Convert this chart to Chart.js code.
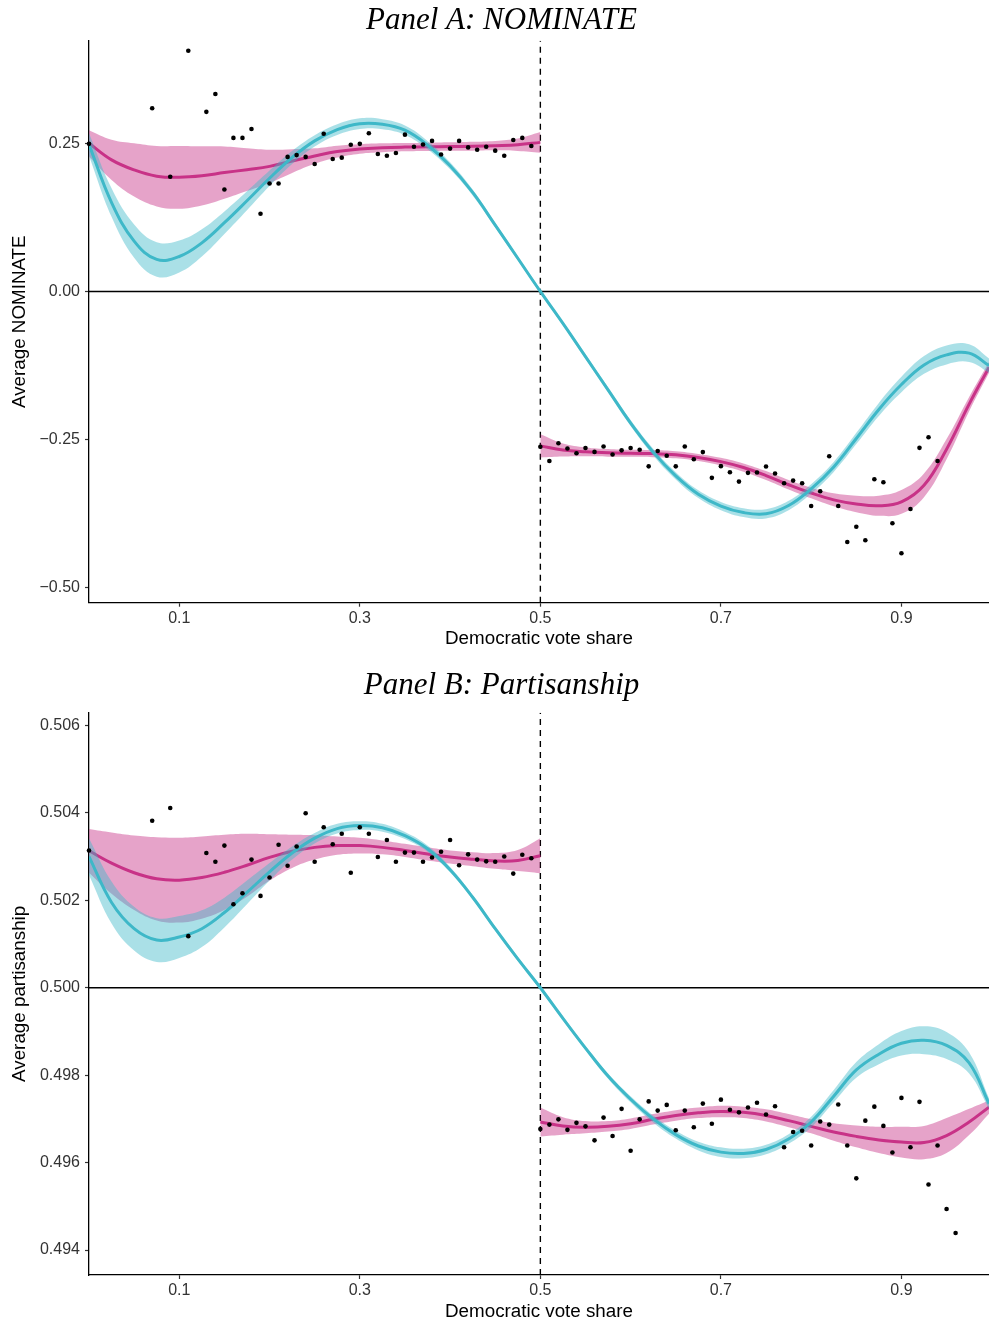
<!DOCTYPE html>
<html><head><meta charset="utf-8">
<script src="https://cdn.jsdelivr.net/npm/chart.js@4.4.1/dist/chart.umd.min.js"></script>
<style>
html,body{margin:0;padding:0;background:#fff;}
#wrap{position:relative;width:989px;height:1325px;background:#fff;}
canvas{position:absolute;left:0;}
</style></head><body>
<div id="wrap">
<canvas id="cA" width="989" height="662" style="top:0;width:989px;height:662px"></canvas>
<canvas id="cB" width="989" height="663" style="top:662px;width:989px;height:663px"></canvas>
</div>
<script>
// ---------- shared axis data ----------
const xTicks = [0.1, 0.3, 0.5, 0.7, 0.9];
const xTickLabels = ["0.1", "0.3", "0.5", "0.7", "0.9"];
const yTicksA = [-0.5, -0.25, 0, 0.25];
const yTickLabelsA = ["\u22120.50", "\u22120.25", "0.00", "0.25"];
const yTicksB = [0.494, 0.496, 0.498, 0.500, 0.502, 0.504, 0.506];
const yTickLabelsB = ["0.494", "0.496", "0.498", "0.500", "0.502", "0.504", "0.506"];

// ---------- smooth-curve grids ----------
const gridL = [0,0.025,0.05,0.075,0.1,0.125,0.15,0.175,0.2,0.225,0.25,0.275,0.3,0.325,0.35,0.375,0.4,0.425,0.45,0.475,0.5];
const gridR = [0.5,0.525,0.55,0.575,0.6,0.625,0.65,0.675,0.7,0.725,0.75,0.775,0.8,0.825,0.85,0.875,0.9,0.925,0.95,0.975,0.997];
const gridAll = [0,0.025,0.05,0.075,0.1,0.125,0.15,0.175,0.2,0.225,0.25,0.275,0.3,0.325,0.35,0.375,0.4,0.425,0.45,0.475,0.5,
                 0.525,0.55,0.575,0.6,0.625,0.65,0.675,0.7,0.725,0.75,0.775,0.8,0.825,0.85,0.875,0.9,0.925,0.95,0.975,0.997];

// ---------- Panel A: NOMINATE ----------
const aLeftFit = [0.250,0.222,0.205,0.1945,0.1925,0.195,0.2005,0.2055,0.211,0.220,0.2285,0.236,0.2405,0.2425,0.2435,0.244,0.2445,0.245,0.246,0.2475,0.2515];
const aLeftCI  = [0.022,0.034,0.045,0.051,0.053,0.050,0.044,0.036,0.028,0.020,0.013,0.010,0.008,0.0075,0.007,0.007,0.007,0.0075,0.008,0.0105,0.0175];
const aRightFit = [-0.2605,-0.2675,-0.2705,-0.2722,-0.273,-0.2735,-0.2755,-0.280,-0.287,-0.297,-0.3105,-0.326,-0.340,-0.3515,-0.3585,-0.3615,-0.355,-0.327,-0.266,-0.190,-0.128];
const aRightCI  = [0.0195,0.011,0.0075,0.0065,0.006,0.006,0.006,0.006,0.0065,0.007,0.0075,0.008,0.009,0.011,0.014,0.017,0.020,0.020,0.017,0.012,0.009];
const aGlobalFit = [0.248,0.150,0.085,0.054,0.059,0.082,0.116,0.153,0.191,0.226,0.254,0.273,0.283,0.282,0.272,0.247,0.212,0.167,0.112,0.056,0.000,
                    -0.054,-0.110,-0.166,-0.222,-0.271,-0.311,-0.342,-0.362,-0.373,-0.375,-0.361,-0.333,-0.296,-0.248,-0.199,-0.157,-0.124,-0.107,-0.104,-0.125];
const aGlobalCI  = [0.019,0.024,0.028,0.029,0.027,0.023,0.019,0.016,0.013,0.011,0.0095,0.009,0.009,0.0085,0.008,0.007,0.006,0.005,0.004,0.0035,0.0035,
                    0.0035,0.004,0.0045,0.005,0.0055,0.006,0.0065,0.007,0.0075,0.0078,0.008,0.008,0.0085,0.0095,0.011,0.013,0.015,0.016,0.015,0.012];
const aBinsL = [0.00,0.07,0.09,0.11,0.13,0.14,0.15,0.16,0.17,0.18,0.19,0.20,0.21,0.22,0.23,0.24,0.25,0.26,
                0.27,0.28,0.29,0.30,0.31,0.32,0.33,0.34,0.35,0.36,0.37,0.38,0.39,0.40,0.41,0.42,0.43,0.44,0.45,0.46,0.47,0.48,0.49];
const aMeansL = [0.249,0.309,0.1936,0.406,0.303,0.333,0.172,0.259,0.259,0.274,0.131,0.182,0.182,0.227,0.230,0.227,0.215,0.266,
                 0.2235,0.2257,0.2476,0.249,0.267,0.232,0.229,0.2336,0.2645,0.244,0.248,0.254,0.231,0.241,0.254,0.243,0.239,0.244,0.2375,0.229,0.2555,0.259,0.2454];
const aBinsR = [0.50,0.51,0.52,0.53,0.54,0.55,0.56,0.57,0.58,0.59,0.60,0.61,0.62,0.63,0.64,0.65,0.66,0.67,0.68,0.69,0.70,0.71,0.72,
                0.73,0.74,0.75,0.76,0.77,0.78,0.79,0.80,0.81,0.82,0.83,0.84,0.85,0.86,0.87,0.88,0.89,0.90,0.91,0.92,0.93,0.94];
const aMeansR = [-0.262,-0.286,-0.256,-0.265,-0.273,-0.264,-0.2706,-0.2616,-0.275,-0.268,-0.264,-0.267,-0.295,-0.269,-0.277,-0.295,-0.2616,-0.283,-0.271,-0.3144,-0.2947,-0.305,-0.3207,
                 -0.306,-0.3055,-0.2953,-0.307,-0.3234,-0.319,-0.3234,-0.362,-0.337,-0.278,-0.362,-0.4225,-0.397,-0.4196,-0.3167,-0.3217,-0.391,-0.4416,-0.367,-0.2638,-0.2458,-0.286];

// ---------- Panel B: Partisanship ----------
const bLeftFit = [0.50313,0.50285,0.50263,0.50249,0.50246,0.50252,0.50264,0.50280,0.50298,0.50312,0.50321,0.50325,0.50325,0.50321,0.50314,0.50306,0.50299,0.50294,0.50290,0.50291,0.50302];
const bLeftCI  = [0.0005,0.0007,0.00085,0.00095,0.00097,0.00094,0.00086,0.00072,0.00053,0.00038,0.00028,0.00021,0.00018,0.00016,0.00015,0.00015,0.00015,0.00016,0.00018,0.00024,0.0004];
const bRightFit = [0.49693,0.49684,0.49681,0.49683,0.49689,0.49699,0.49708,0.49714,0.49717,0.49715,0.49708,0.49696,0.49683,0.49670,0.49660,0.49652,0.49647,0.49646,0.49662,0.49693,0.49727];
const bRightCI  = [0.00033,0.0002,0.00014,0.00012,0.00012,0.00012,0.00012,0.00012,0.00013,0.00013,0.00014,0.00015,0.00016,0.0002,0.00025,0.0003,0.00035,0.00038,0.0004,0.0003,0.00015];
const bGlobalFit = [0.50300,0.50195,0.50135,0.50109,0.50116,0.50135,0.50172,0.50218,0.50265,0.50308,0.50342,0.50364,0.50371,0.50366,0.50348,0.50318,0.50270,0.50207,0.50135,0.50066,0.50000,
                    0.49930,0.49862,0.49798,0.49745,0.49700,0.49664,0.49638,0.49624,0.49621,0.49630,0.49654,0.49693,0.49752,0.49812,0.49848,0.49873,0.49880,0.49868,0.49828,0.49735];
const bGlobalCI  = [0.00042,0.00048,0.0005,0.0005,0.00048,0.00042,0.00034,0.00027,0.0002,0.00015,0.00012,0.00011,0.0001,0.00009,0.00008,0.00007,0.00006,0.00005,0.00005,0.00005,0.00005,
                    0.00005,0.00005,0.00006,0.00007,0.00008,0.00009,0.0001,0.00011,0.00011,0.00011,0.00011,0.00012,0.00014,0.00018,0.00023,0.00028,0.00032,0.00031,0.00024,0.00012];
const bBinsL = [0.00,0.07,0.09,0.11,0.13,0.14,0.15,0.16,0.17,0.18,0.19,0.20,0.21,0.22,0.23,0.24,0.25,0.26,
                0.27,0.28,0.29,0.30,0.31,0.32,0.33,0.34,0.35,0.36,0.37,0.38,0.39,0.40,0.41,0.42,0.43,0.44,0.45,0.46,0.47,0.48,0.49];
const bMeansL = [0.50314,0.50382,0.50411,0.50118,0.50308,0.50288,0.50325,0.50191,0.50216,0.50293,0.50210,0.50252,0.50327,0.50279,0.50323,0.50399,0.50288,0.50367,
                 0.50328,0.50352,0.50263,0.50367,0.50352,0.50299,0.50338,0.50288,0.50309,0.50309,0.50288,0.50298,0.50311,0.50338,0.50280,0.50305,0.50293,0.50289,0.50288,0.50300,0.50261,0.50304,0.50296];
const bBinsR = [0.50,0.51,0.52,0.53,0.54,0.55,0.56,0.57,0.58,0.59,0.60,0.61,0.62,0.63,0.64,0.65,0.66,0.67,0.68,0.69,0.70,0.71,0.72,0.73,
                0.74,0.75,0.76,0.77,0.78,0.79,0.80,0.81,0.82,0.83,0.84,0.85,0.86,0.87,0.88,0.89,0.90,0.91,0.92,0.93,0.94,0.95,0.96];
const bMeansR = [0.49677,0.49687,0.49699,0.49675,0.49691,0.49683,0.49651,0.49703,0.49661,0.49723,0.49627,0.49699,0.49740,0.49719,0.49732,0.49674,0.49719,0.49681,0.49735,0.49689,0.49744,0.49721,0.49715,0.49726,
                 0.49737,0.49710,0.49729,0.49635,0.49670,0.49673,0.49639,0.49694,0.49687,0.49733,0.49639,0.49564,0.49696,0.49728,0.49684,0.49623,0.49748,0.49635,0.49739,0.49550,0.49639,0.49494,0.49439];

// ---------- styling ----------
const MAG = 'rgb(200,50,135)';
const MAG_BAND = 'rgba(200,50,135,0.45)';
const CYAN = 'rgb(62,184,200)';
const CYAN_BAND = 'rgba(62,184,200,0.44)';
const X_MIN = 0, X_MAX = 0.997;

Chart.defaults.font.family = "'Liberation Sans', Arial, sans-serif";

function xy(xs, ys) { return xs.map((x, i) => ({x: x, y: ys[i]})); }
function edge(xs, fit, ci, s) { return xs.map((x, i) => ({x: x, y: fit[i] + s * ci[i]})); }

function curveSets(xs, fit, ci, line, bandCol, lineOrder, bandOrder) {
  return [
    {data: edge(xs, fit, ci, -1), borderWidth: 0, pointRadius: 0, fill: false, order: bandOrder, tension: 0.4, borderColor: 'rgba(0,0,0,0)'},
    {data: edge(xs, fit, ci, 1), borderWidth: 0, pointRadius: 0, fill: '-1', backgroundColor: bandCol, order: bandOrder, tension: 0.4, borderColor: 'rgba(0,0,0,0)'},
    {data: xy(xs, fit), borderWidth: 3, borderColor: line, pointRadius: 0, fill: false, order: lineOrder, tension: 0.4, borderCapStyle: 'butt'}
  ];
}

function makeChart(id, P) {
  const ds = [];
  ds.push({data: [{x: X_MIN, y: P.refY}, {x: X_MAX, y: P.refY}], borderColor: '#000', borderWidth: 1.4, pointRadius: 0, fill: false, order: 9});
  ds.push({data: [{x: 0.5, y: P.yMin}, {x: 0.5, y: P.yMax}], borderColor: '#000', borderWidth: 1.4, borderDash: [6, 5], pointRadius: 0, fill: false, order: 9});
  ds.push(...curveSets(gridL, P.leftFit, P.leftCI, MAG, MAG_BAND, 7, 8));
  ds.push(...curveSets(gridR, P.rightFit, P.rightCI, MAG, MAG_BAND, 7, 8));
  ds.push(...curveSets(gridAll, P.globalFit, P.globalCI, CYAN, CYAN_BAND, 5, 6));
  ds.push({data: xy(P.binsL, P.meansL), showLine: false, pointRadius: 2.3, pointBackgroundColor: '#000', pointBorderWidth: 0, order: 1, clip: false});
  ds.push({data: xy(P.binsR, P.meansR), showLine: false, pointRadius: 2.3, pointBackgroundColor: '#000', pointBorderWidth: 0, order: 1, clip: false});

  return new Chart(document.getElementById(id), {
    type: 'line',
    data: {datasets: ds},
    options: {
      responsive: false, animation: false, devicePixelRatio: 1,
      events: [],
      layout: {autoPadding: false, padding: {left: 14, right: 0, top: 0, bottom: P.padBottom}},
      plugins: {
        legend: {display: false}, tooltip: {enabled: false},
        title: {display: true, text: P.title, color: '#000',
          font: {family: "'Liberation Serif', 'Times New Roman', serif", style: 'italic', weight: 'normal', size: 31, lineHeight: 1.2},
          padding: {top: P.titleTop, bottom: P.titleBottom}}
      },
      scales: {
        x: {
          type: 'linear', min: X_MIN, max: X_MAX,
          afterBuildTicks: s => { s.ticks = xTicks.map(v => ({value: v})); },
          afterFit: s => { s.height = P.xH; },
          ticks: {color: '#333', font: {size: 16}, padding: 2, maxRotation: 0, autoSkip: false,
                  callback: (v, i) => xTickLabels[i]},
          grid: {display: true, drawOnChartArea: false, drawTicks: true, tickLength: 4, tickColor: '#333', tickWidth: 1.2},
          border: {display: true, color: '#000', width: 1.3},
          title: {display: true, text: 'Democratic vote share', color: '#000', font: {size: 18.8, lineHeight: 1}, padding: {top: 0, bottom: 0}}
        },
        y: {
          type: 'linear', min: P.yMin, max: P.yMax,
          afterBuildTicks: s => { s.ticks = P.yTicks.map(v => ({value: v})); },
          afterFit: s => { s.width = 75; },
          ticks: {color: '#333', font: {size: 16}, padding: 5, autoSkip: false,
                  callback: (v, i) => P.yLabels[i]},
          grid: {display: true, drawOnChartArea: false, drawTicks: true, tickLength: 4, tickColor: '#333', tickWidth: 1.2},
          border: {display: true, color: '#000', width: 1.3},
          title: {display: true, text: P.yTitle, color: '#000', font: {size: 18.8, lineHeight: 1}, padding: {top: -3.4, bottom: 0}}
        }
      }
    }
  });
}

makeChart('cA', {
  title: 'Panel A: NOMINATE', yTitle: 'Average NOMINATE',
  yMin: -0.525, yMax: 0.423, refY: 0, yTicks: yTicksA, yLabels: yTickLabelsA,
  titleTop: 2, titleBottom: 1.5, padBottom: 13.6, xH: 45.7,
  leftFit: aLeftFit, leftCI: aLeftCI, rightFit: aRightFit, rightCI: aRightCI,
  globalFit: aGlobalFit, globalCI: aGlobalCI,
  binsL: aBinsL, meansL: aMeansL, binsR: aBinsR, meansR: aMeansR
});

makeChart('cB', {
  title: 'Panel B: Partisanship', yTitle: 'Average partisanship',
  yMin: 0.49343, yMax: 0.50629, refY: 0.5, yTicks: yTicksB, yLabels: yTickLabelsB,
  titleTop: 5.4, titleBottom: 8.1, padBottom: 4.1, xH: 45.9,
  leftFit: bLeftFit, leftCI: bLeftCI, rightFit: bRightFit, rightCI: bRightCI,
  globalFit: bGlobalFit, globalCI: bGlobalCI,
  binsL: bBinsL, meansL: bMeansL, binsR: bBinsR, meansR: bMeansR
});
</script>
</body></html>
